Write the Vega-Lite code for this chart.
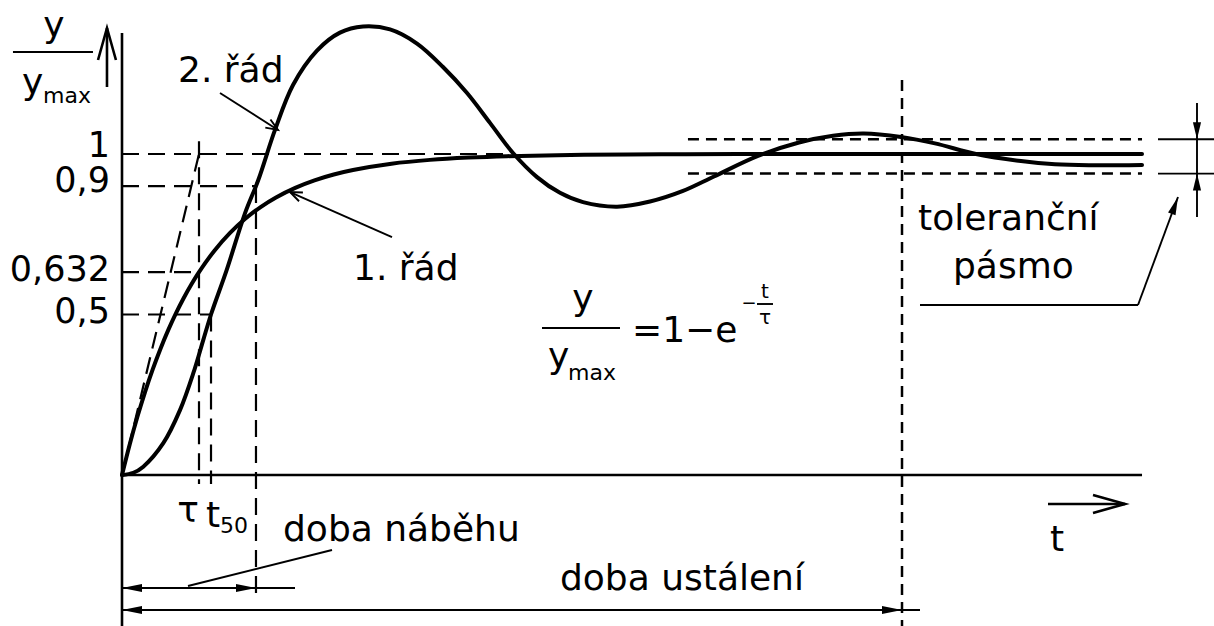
{
  "$schema": "https://vega.github.io/schema/vega-lite/v6.json",
  "width": 1214,
  "height": 626,
  "autosize": {"type": "none"},
  "padding": 0,
  "background": "white",
  "config": {
    "view": {"stroke": null},
    "text": {"font": "DejaVu Sans", "color": "black"}
  },
  "datasets": {
    "curves": [
      {"order": "1. řád", "t": 0, "y": 0},
      {"order": "1. řád", "t": 0.1, "y": 0.0952},
      {"order": "1. řád", "t": 0.2, "y": 0.1813},
      {"order": "1. řád", "t": 0.3, "y": 0.2592},
      {"order": "1. řád", "t": 0.4, "y": 0.3297},
      {"order": "1. řád", "t": 0.5, "y": 0.3935},
      {"order": "1. řád", "t": 0.6, "y": 0.4512},
      {"order": "1. řád", "t": 0.7, "y": 0.5034},
      {"order": "1. řád", "t": 0.8, "y": 0.5507},
      {"order": "1. řád", "t": 0.9, "y": 0.5934},
      {"order": "1. řád", "t": 1.0, "y": 0.6321},
      {"order": "1. řád", "t": 1.2, "y": 0.6988},
      {"order": "1. řád", "t": 1.4, "y": 0.7534},
      {"order": "1. řád", "t": 1.6, "y": 0.7981},
      {"order": "1. řád", "t": 1.8, "y": 0.8347},
      {"order": "1. řád", "t": 2.0, "y": 0.8647},
      {"order": "1. řád", "t": 2.25, "y": 0.8946},
      {"order": "1. řád", "t": 2.5, "y": 0.9179},
      {"order": "1. řád", "t": 2.75, "y": 0.9361},
      {"order": "1. řád", "t": 3.0, "y": 0.9502},
      {"order": "1. řád", "t": 3.5, "y": 0.9698},
      {"order": "1. řád", "t": 4.0, "y": 0.9817},
      {"order": "1. řád", "t": 4.5, "y": 0.9889},
      {"order": "1. řád", "t": 5.0, "y": 0.9933},
      {"order": "1. řád", "t": 6.0, "y": 0.9975},
      {"order": "1. řád", "t": 7.0, "y": 0.9991},
      {"order": "1. řád", "t": 8.0, "y": 0.9997},
      {"order": "1. řád", "t": 10.0, "y": 1.0},
      {"order": "1. řád", "t": 13.247, "y": 1.0},
      {"order": "2. řád", "t": 0, "y": 0},
      {"order": "2. řád", "t": 0.147, "y": 0.007},
      {"order": "2. řád", "t": 0.277, "y": 0.026},
      {"order": "2. řád", "t": 0.536, "y": 0.099},
      {"order": "2. řád", "t": 0.753, "y": 0.202},
      {"order": "2. řád", "t": 0.926, "y": 0.317},
      {"order": "2. řád", "t": 1.056, "y": 0.421},
      {"order": "2. řád", "t": 1.156, "y": 0.5},
      {"order": "2. řád", "t": 1.36, "y": 0.639},
      {"order": "2. řád", "t": 1.597, "y": 0.815},
      {"order": "2. řád", "t": 1.77, "y": 0.919},
      {"order": "2. řád", "t": 1.987, "y": 1.075},
      {"order": "2. řád", "t": 2.221, "y": 1.215},
      {"order": "2. řád", "t": 2.532, "y": 1.322},
      {"order": "2. řád", "t": 2.831, "y": 1.378},
      {"order": "2. řád", "t": 3.13, "y": 1.397},
      {"order": "2. řád", "t": 3.481, "y": 1.388},
      {"order": "2. řád", "t": 3.831, "y": 1.344},
      {"order": "2. řád", "t": 4.169, "y": 1.271},
      {"order": "2. řád", "t": 4.481, "y": 1.19},
      {"order": "2. řád", "t": 4.779, "y": 1.097},
      {"order": "2. řád", "t": 5.078, "y": 1.003},
      {"order": "2. řád", "t": 5.39, "y": 0.928},
      {"order": "2. řád", "t": 5.688, "y": 0.879},
      {"order": "2. řád", "t": 5.987, "y": 0.85},
      {"order": "2. řád", "t": 6.429, "y": 0.836},
      {"order": "2. řád", "t": 6.857, "y": 0.852},
      {"order": "2. řád", "t": 7.286, "y": 0.885},
      {"order": "2. řád", "t": 7.688, "y": 0.93},
      {"order": "2. řád", "t": 8.26, "y": 0.994},
      {"order": "2. řád", "t": 8.792, "y": 1.036},
      {"order": "2. řád", "t": 9.234, "y": 1.057},
      {"order": "2. řád", "t": 9.636, "y": 1.064},
      {"order": "2. řád", "t": 10.117, "y": 1.053},
      {"order": "2. řád", "t": 10.558, "y": 1.033},
      {"order": "2. řád", "t": 11.091, "y": 1.0},
      {"order": "2. řád", "t": 11.675, "y": 0.978},
      {"order": "2. řád", "t": 12.117, "y": 0.968},
      {"order": "2. řád", "t": 12.558, "y": 0.965},
      {"order": "2. řád", "t": 13.247, "y": 0.966}
    ],
    "axes": [
      {"t": 0, "y": 1.377, "t2": 0, "y2": -0.48},
      {"t": 0, "y": 0, "t2": 13.247, "y2": 0},
      {"t": -0.195, "y": 1.3925, "t2": -0.195, "y2": 1.2087},
      {"t": 12.026, "y": -0.0903, "t2": 13.026, "y2": -0.0903}
    ],
    "thin": [
      {"t": -1.416, "y": 1.3178, "t2": -0.377, "y2": 1.3178},
      {"t": 5.4545, "y": 0.4579, "t2": 6.4675, "y2": 0.4579},
      {"t": 8.2468, "y": 0.5327, "t2": 8.4545, "y2": 0.5327},
      {"t": 1.2727, "y": 1.19, "t2": 2.026, "y2": 1.0748},
      {"t": 3.5065, "y": 0.7414, "t2": 2.1818, "y2": 0.8816},
      {"t": 2.7273, "y": -0.2336, "t2": 0.8571, "y2": -0.3458},
      {"t": 0, "y": -0.352, "t2": 2.2468, "y2": -0.352},
      {"t": 0, "y": -0.4206, "t2": 10.3636, "y2": -0.4206},
      {"t": 10.3636, "y": 0.5296, "t2": 13.1948, "y2": 0.5296},
      {"t": 13.1948, "y": 0.5296, "t2": 13.7143, "y2": 0.866},
      {"t": 13.4545, "y": 1.046, "t2": 14.2, "y2": 1.046},
      {"t": 13.4545, "y": 0.939, "t2": 14.2, "y2": 0.939},
      {"t": 13.961, "y": 1.1589, "t2": 13.961, "y2": 0.8037}
    ],
    "guides": [
      {"t": 0, "y": 1, "t2": 5, "y2": 1},
      {"t": 0, "y": 0.9, "t2": 1.74, "y2": 0.9},
      {"t": 0, "y": 0.632, "t2": 1, "y2": 0.632},
      {"t": 0, "y": 0.5, "t2": 1.156, "y2": 0.5},
      {"t": 0, "y": 0, "t2": 1, "y2": 1},
      {"t": 1, "y": 1.04, "t2": 1, "y2": -0.028},
      {"t": 1.156, "y": 0.5, "t2": 1.156, "y2": -0.028},
      {"t": 1.74, "y": 0.9, "t2": 1.74, "y2": -0.396}
    ],
    "band": [
      {"t": 7.35, "y": 1.046, "t2": 13.247, "y2": 1.046},
      {"t": 7.35, "y": 0.939, "t2": 13.247, "y2": 0.939},
      {"t": 10.13, "y": 1.2305, "t2": 10.13, "y2": -0.48}
    ],
    "heads": [
      {"kind": "open-up", "t": -0.195, "y": 1.3925},
      {"kind": "open-right", "t": 13.026, "y": -0.0903},
      {"kind": "dim-left", "t": 0, "y": -0.352},
      {"kind": "dim-left", "t": 0, "y": -0.4206},
      {"kind": "dim-right", "t": 1.74, "y": -0.352},
      {"kind": "dim-right", "t": 10.13, "y": -0.4206},
      {"kind": "tol-down", "t": 13.961, "y": 1.046},
      {"kind": "tol-up", "t": 13.961, "y": 0.939},
      {"kind": "lead-2", "t": 2.026, "y": 1.0748},
      {"kind": "lead-1", "t": 2.1818, "y": 0.8816},
      {"kind": "lead-tol", "t": 13.7143, "y": 0.866}
    ],
    "textLeft": [
      {"label": "2. řád", "t": 0.727, "y": 1.2243},
      {"label": "1. řád", "t": 3.0, "y": 0.6075},
      {"label": "doba náběhu", "t": 2.091, "y": -0.2056},
      {"label": "doba ustálení", "t": 5.688, "y": -0.3583},
      {"label": "toleranční", "t": 10.338, "y": 0.7632},
      {"label": "pásmo", "t": 10.792, "y": 0.6137},
      {"label": "t", "t": 1.091, "y": -0.162},
      {"label": "y", "t": -1.299, "y": 1.1869},
      {"label": "y", "t": 5.532, "y": 0.3333},
      {"label": "=1−e", "t": 6.623, "y": 0.4143}
    ],
    "textCenter": [
      {"label": "y", "t": -0.883, "y": 1.3645},
      {"label": "y", "t": 5.987, "y": 0.514},
      {"label": "τ", "t": 0.857, "y": -0.1464},
      {"label": "t", "t": 12.143, "y": -0.2368}
    ],
    "ticks": [
      {"label": "1", "t": -0.156, "y": 0.9907},
      {"label": "0,9", "t": -0.156, "y": 0.8816},
      {"label": "0,632", "t": -0.156, "y": 0.6044},
      {"label": "0,5", "t": -0.156, "y": 0.4735}
    ],
    "subs": [
      {"label": "max", "t": -1.026, "y": 1.1589},
      {"label": "max", "t": 5.792, "y": 0.296},
      {"label": "50", "t": 1.273, "y": -0.1807}
    ],
    "sups": [
      {"label": "t", "t": 8.351, "y": 0.5514},
      {"label": "τ", "t": 8.351, "y": 0.4704}
    ],
    "supMinus": [
      {"label": "−", "t": 8.143, "y": 0.517}
    ]
  },
  "encoding": {
    "x": {"field": "t", "type": "quantitative", "scale": {"domain": [-1.58442, 14.18182], "nice": false, "zero": false}, "axis": null},
    "y": {"field": "y", "type": "quantitative", "scale": {"domain": [-0.4704, 1.47975], "nice": false, "zero": false}, "axis": null}
  },
  "layer": [
    {
      "data": {"name": "guides"},
      "mark": {"type": "rule", "color": "black", "strokeWidth": 2.2, "strokeDash": [17, 9]},
      "encoding": {"x2": {"field": "t2"}, "y2": {"field": "y2"}}
    },
    {
      "data": {"name": "band"},
      "mark": {"type": "rule", "color": "black", "strokeWidth": 2.5, "strokeDash": [11, 7]},
      "encoding": {"x2": {"field": "t2"}, "y2": {"field": "y2"}}
    },
    {
      "data": {"name": "thin"},
      "mark": {"type": "rule", "color": "black", "strokeWidth": 1.9},
      "encoding": {"x2": {"field": "t2"}, "y2": {"field": "y2"}}
    },
    {
      "data": {"name": "axes"},
      "mark": {"type": "rule", "color": "black", "strokeWidth": 2.6},
      "encoding": {"x2": {"field": "t2"}, "y2": {"field": "y2"}}
    },
    {
      "data": {"name": "curves"},
      "mark": {"type": "line", "interpolate": "catmull-rom", "color": "black", "strokeWidth": 4, "strokeJoin": "round", "strokeCap": "round"},
      "encoding": {"detail": {"field": "order"}}
    },
    {
      "data": {"name": "heads"},
      "transform": [{"filter": "datum.kind === 'open-up'"}],
      "mark": {"type": "point", "shape": "M-1,-0.28L0,0L-1,0.28", "size": 4096, "angle": 270, "filled": false, "stroke": "black", "strokeWidth": 2.6, "opacity": 1}
    },
    {
      "data": {"name": "heads"},
      "transform": [{"filter": "datum.kind === 'open-right'"}],
      "mark": {"type": "point", "shape": "M-1,-0.28L0,0L-1,0.28", "size": 4096, "angle": 0, "filled": false, "stroke": "black", "strokeWidth": 2.6, "opacity": 1}
    },
    {
      "data": {"name": "heads"},
      "transform": [{"filter": "datum.kind === 'dim-left'"}],
      "mark": {"type": "point", "shape": "M0,0L-1,-0.2L-1,0.2Z", "size": 1600, "angle": 180, "filled": true, "fill": "black", "opacity": 1}
    },
    {
      "data": {"name": "heads"},
      "transform": [{"filter": "datum.kind === 'dim-right'"}],
      "mark": {"type": "point", "shape": "M0,0L-1,-0.2L-1,0.2Z", "size": 1600, "angle": 0, "filled": true, "fill": "black", "opacity": 1}
    },
    {
      "data": {"name": "heads"},
      "transform": [{"filter": "datum.kind === 'tol-down'"}],
      "mark": {"type": "point", "shape": "M0,0L-1,-0.24L-1,0.24Z", "size": 1156, "angle": 90, "filled": true, "fill": "black", "opacity": 1}
    },
    {
      "data": {"name": "heads"},
      "transform": [{"filter": "datum.kind === 'tol-up'"}],
      "mark": {"type": "point", "shape": "M0,0L-1,-0.24L-1,0.24Z", "size": 1156, "angle": 270, "filled": true, "fill": "black", "opacity": 1}
    },
    {
      "data": {"name": "heads"},
      "transform": [{"filter": "datum.kind === 'lead-2'"}],
      "mark": {"type": "point", "shape": "M-1,-0.4L0,0L-1,0.4", "size": 576, "angle": 32.5, "filled": false, "stroke": "black", "strokeWidth": 1.9, "opacity": 1}
    },
    {
      "data": {"name": "heads"},
      "transform": [{"filter": "datum.kind === 'lead-1'"}],
      "mark": {"type": "point", "shape": "M-1,-0.4L0,0L-1,0.4", "size": 576, "angle": 203.8, "filled": false, "stroke": "black", "strokeWidth": 1.9, "opacity": 1}
    },
    {
      "data": {"name": "heads"},
      "transform": [{"filter": "datum.kind === 'lead-tol'"}],
      "mark": {"type": "point", "shape": "M0,0L-1,-0.22L-1,0.22Z", "size": 1296, "angle": 290.2, "filled": true, "fill": "black", "opacity": 1}
    },
    {
      "data": {"name": "textLeft"},
      "mark": {"type": "text", "align": "left", "baseline": "alphabetic", "fontSize": 36},
      "encoding": {"text": {"field": "label"}}
    },
    {
      "data": {"name": "textCenter"},
      "mark": {"type": "text", "align": "center", "baseline": "alphabetic", "fontSize": 36},
      "encoding": {"text": {"field": "label"}}
    },
    {
      "data": {"name": "ticks"},
      "mark": {"type": "text", "align": "right", "baseline": "alphabetic", "fontSize": 35},
      "encoding": {"text": {"field": "label"}}
    },
    {
      "data": {"name": "subs"},
      "mark": {"type": "text", "align": "left", "baseline": "alphabetic", "fontSize": 22},
      "encoding": {"text": {"field": "label"}}
    },
    {
      "data": {"name": "sups"},
      "mark": {"type": "text", "align": "center", "baseline": "alphabetic", "fontSize": 20},
      "encoding": {"text": {"field": "label"}}
    },
    {
      "data": {"name": "supMinus"},
      "mark": {"type": "text", "align": "center", "baseline": "alphabetic", "fontSize": 18},
      "encoding": {"text": {"field": "label"}}
    }
  ]
}
